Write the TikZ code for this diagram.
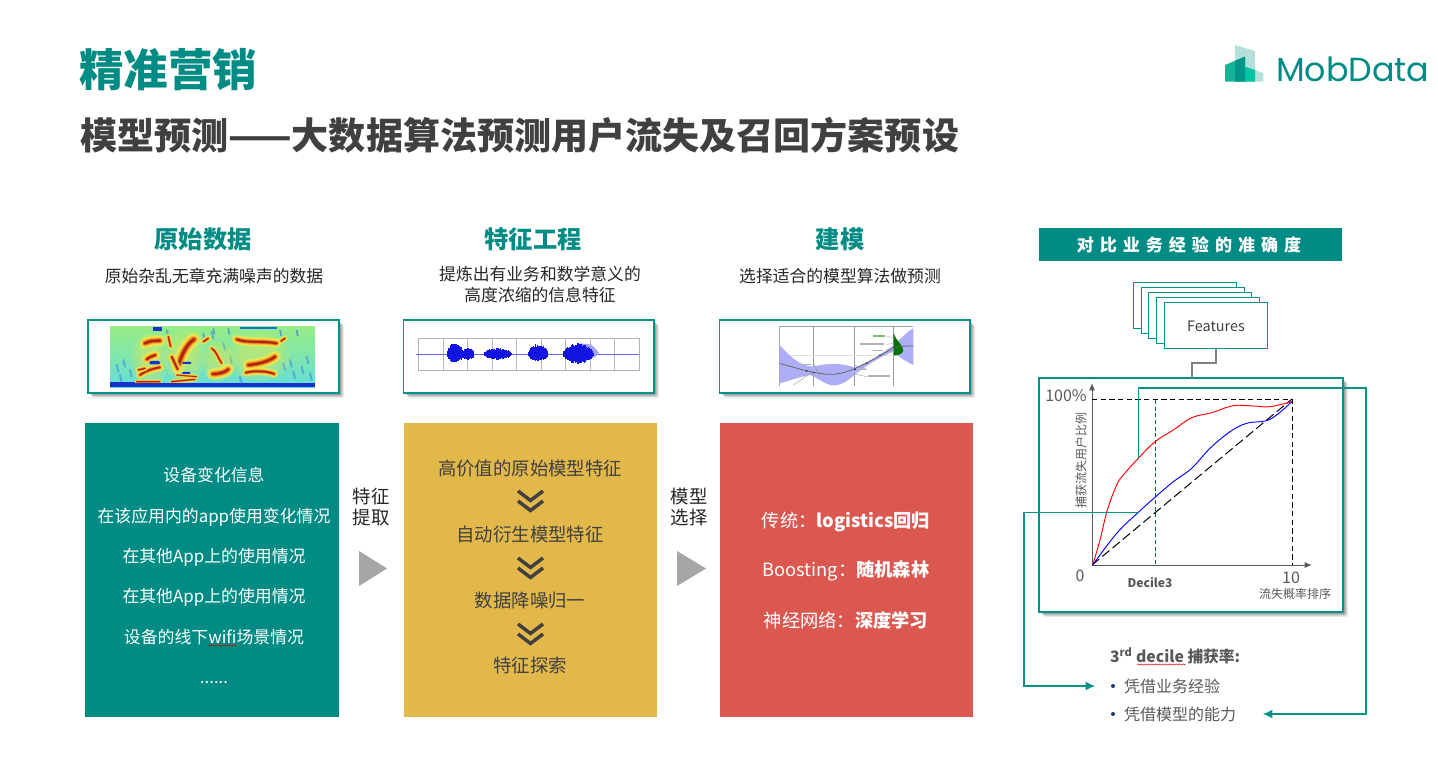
\documentclass[tikz,border=0pt]{standalone}
\usepackage{fontspec}
\setmainfont{Noto Sans CJK SC}
\newfontfamily\poppinsfont{Poppins}
\usetikzlibrary{arrows.meta,decorations.pathmorphing,calc}
\definecolor{teal1}{HTML}{008C84}
\definecolor{tealline}{HTML}{00938A}
\definecolor{yellow1}{HTML}{E2B84B}
\definecolor{red1}{HTML}{DA5850}
\definecolor{dark1}{HTML}{404040}
\definecolor{gray1}{HTML}{595959}
\definecolor{tri}{HTML}{A6A6A6}
\definecolor{logo1}{HTML}{00C4A4}
\definecolor{logo2}{HTML}{14B596}
\definecolor{logo3}{HTML}{009688}
\definecolor{logo4}{HTML}{B4DFDA}
\definecolor{navy1}{HTML}{1F3864}
\newcommand{\fsz}[1]{\fontsize{#1}{#1}\selectfont}
\newcommand{\pxbox}[6]{%
  \pgfmathsetmacro{\bw}{(#4-#2)*.75}\pgfmathsetmacro{\bh}{(#5-#3)*.75}%
  \node[#6,inner sep=0pt,outer sep=0pt,minimum width=\bw pt,minimum height=\bh pt,anchor=north west] (#1) at (#2,#3) {};}
\newcommand{\softshadow}[4]{%
  \foreach \d/\o in {5/.07,4/.09,3/.12,2/.14}{%
    \fill[black,opacity=\o,rounded corners=1pt] (#1+\d,#2+\d) rectangle (#3+\d,#4+\d);}}
\newcommand{\streak}[2][7]{%
  \draw[line width=#1*1.5pt,line cap=round,line join=round,draw=specy,opacity=.45] #2;
  \draw[line width=#1*1.15pt,line cap=round,line join=round,draw=specy] #2;
  \draw[line width=#1*.85pt,line cap=round,line join=round,draw=speco,opacity=.8] #2;
  \draw[line width=#1*.55pt,line cap=round,line join=round,draw=specm,opacity=.9] #2;
  \draw[line width=#1*.3pt,line cap=round,line join=round,draw=specr,opacity=.9] #2;}
\newcommand{\halo}[4]{%
  \foreach \k in {1,.8,.6}{%
    \fill[specy,opacity=.18] (#1,#2) ellipse [x radius=\k*#3pt,y radius=\k*#4pt];}}
\newcommand{\burst}[4]{%
  \foreach \xx in {#1,\the\numexpr#1+2\relax,...,#2}{%
    \pgfmathsetmacro{\env}{sqrt(abs(sin(180*(\xx-#1)/(#2-#1))))*(.72+.28*rnd)}%
    \draw[wave,line width=.55pt] (\xx,133-\env*#3) -- (\xx,133+\env*#4);}}
\newcommand{\chev}[2]{%
  \draw[dark1,line width=2.6pt,line join=miter] (#1-12.5,#2-10) -- (#1,#2-.5) -- (#1+12.5,#2-10);
  \draw[dark1,line width=2.6pt,line join=miter] (#1-12.5,#2) -- (#1,#2+9.5) -- (#1+12.5,#2);}
\definecolor{specy}{HTML}{EAEA50}
\definecolor{speco}{HTML}{F4B030}
\definecolor{specm}{HTML}{E86A18}
\definecolor{specr}{HTML}{A81C10}
\definecolor{specb}{HTML}{1A30C8}
\definecolor{specg}{HTML}{96EC86}
\definecolor{specc}{HTML}{62DEDC}
\definecolor{wave}{HTML}{1414E0}
\definecolor{band}{HTML}{AEAEF6}
\begin{document}
\begin{tikzpicture}[x=.75pt,y=-.75pt,
  txt/.style={inner sep=0pt,outer sep=0pt,align=center},
  coltitle/.style={txt,teal1,font=\fsz{18.2pt}\bfseries},
  coltext/.style={txt,black!85,font=\fsz{12.6pt}},
  boxw/.style={txt,white,font=\fsz{12.65pt},text height=11.1pt,text depth=1.5pt},
  boxr/.style={txt,white,font=\fsz{13.7pt},text height=12.1pt,text depth=1.7pt},
  boxd/.style={txt,dark1,font=\fsz{13.8pt},text height=12.1pt,text depth=1.7pt},
  sidel/.style={txt,black!85,font=\fontsize{13.8pt}{15.8pt}\selectfont},
  framebox/.style={draw=tealline,line width=1.05pt,fill=white},
  chartbox/.style={draw=tealline,line width=.85pt,fill=white},
  stackbox/.style={draw=tealline,line width=.8pt,fill=white},
  tealconn/.style={draw=tealline,line width=.8pt},
  tealarrow/.style={tealconn,-{Latex[length=7pt,width=6.5pt]}},
  squiggle/.style={draw=red!85!black,line width=.4pt,decorate,decoration={snake,amplitude=.45pt,segment length=2.6pt}},
  chartl/.style={txt,gray1},
  triang/.style={fill=tri},
  dashk/.style={black,line width=.75pt,dash pattern=on 4pt off 2.5pt}]
\pgfmathsetseed{7}
\useasboundingbox (0,0) rectangle (1438,780);
\fill[white] (0,0) rectangle (1438,780);

% titles
\node[txt,anchor=west,teal1,font=\fsz{33.4pt}\bfseries] (title) at (79,70) {精准营销};
\node[txt,anchor=west,dark1,font=\fsz{27.8pt}\bfseries] (subtitle) at (80,135) {模型预测——大数据算法预测用户流失及召回方案预设};

% logo
\begin{scope}[shift={(1210,35)},x=.25pt,y=-.25pt]
  \fill[logo4] (75,30) -- (135,48) -- (135,105) -- (160,115) -- (160,140) -- (75,140) -- cycle;
  \fill[logo2] (45,90) -- (105,65) -- (105,140) -- (45,140) -- cycle;
  \fill[logo3] (75,77) -- (105,65) -- (105,140) -- (75,140) -- cycle;
  \fill[logo1] (105,95) -- (135,105) -- (135,140) -- (105,140) -- cycle;
\end{scope}
\node[txt,anchor=west,teal1,font=\poppinsfont\fsz{25pt}] (logo) at (1276,69) {MobData};

% column heads
\node[coltitle] (h1) at (203,239) {原始数据};
\node[coltitle] (h2) at (533,239) {特征工程};
\node[coltitle] (h3) at (840,239) {建模};
\node[coltext] (s1) at (214,276) {原始杂乱无章充满噪声的数据};
\node[coltext,font=\fontsize{12.6pt}{15.8pt}\selectfont] (s2) at (540,285) {提炼出有业务和数学意义的\\高度浓缩的信息特征};
\node[coltext] (s3) at (840,276) {选择适合的模型算法做预测};

% image frames
\softshadow{88}{320}{339}{393}
\pxbox{f1}{88}{320}{339}{393}{framebox}
\softshadow{403.5}{320}{654}{393}
\pxbox{f2}{403.5}{320}{654}{393}{framebox}
\softshadow{719.5}{320}{970}{393}
\pxbox{f3}{719.5}{320}{970}{393}{framebox}

% spectrogram
\begin{scope}[shift={(80,310)},x=.25pt,y=-.25pt]
  \clip (90,50) rectangle (705,232);
  \shade[top color=specg,bottom color=specc,middle color=specc!45!specg] (90,50) rectangle (705,232);
  \foreach \a/\b in {110/165,130/150,150/180,610/160,640/185,665/170,690/190,370/70,395/65,260/60,430/100,450/140,480/200,120/195,680/140,630/150}{
    \draw[specc!55!blue,line width=1.5pt,line cap=round,opacity=.5] (\a,\b) -- ++(5,20);}
  \foreach \a/\b in {400/55,445/55,600/60,650/60}{
    \draw[specc!40!blue,line width=1.3pt,opacity=.5] (\a,\b) -- ++(3,18);}
  \halo{210}{150}{14}{20}
  \halo{315}{140}{15}{20}
  \halo{415}{155}{12}{15}
  \halo{535}{140}{24}{18}
  \streak[3]{(395,115) .. controls (410,125) and (415,145) .. (425,160)}
  \streak[3]{(370,95) -- (385,85)}
  \streak[3]{(600,95) -- (615,85)}
  \streak[3]{(265,80) -- (272,110)}
  \streak[6]{(195,100) .. controls (210,92) and (225,92) .. (240,92)}
  \streak[5]{(200,148) .. controls (210,140) and (218,138) .. (226,135)}
  \streak[4]{(180,195) .. controls (200,180) and (225,175) .. (240,172)}
  \streak[3]{(175,180) -- (195,175)}
  \streak[7]{(293,172) .. controls (300,150) and (315,105) .. (342,88)}
  \streak[4]{(275,140) -- (293,178)}
  \streak[6]{(398,192) .. controls (415,192) and (435,188) .. (445,178)}
  \streak[5]{(470,88) .. controls (500,100) and (550,92) .. (590,100)}
  \streak[6]{(505,165) .. controls (535,162) and (565,155) .. (585,140)}
  \streak[4]{(497,188) .. controls (520,182) and (560,182) .. (583,192)}
  \streak[2.5]{(170,215) -- (240,215)}
  \streak[2.5]{(275,215) -- (345,208)}
  \streak[2]{(290,195) -- (350,200)}
  \fill[specb,rounded corners=1pt] (208,153) rectangle (240,163);
  \fill[specb,rounded corners=1pt] (305,156) rectangle (335,162);
  \fill[specb,rounded corners=1pt] (305,186) rectangle (332,192);
  \fill[specb] (90,220) rectangle (705,232);
  \fill[specb] (90,215) rectangle (165,224);
  \fill[specb] (218,50) rectangle (245,64);
  \fill[specb!70!cyan] (480,50) rectangle (590,57);
\end{scope}

% waveform
\begin{scope}[shift={(395,310)},x=.25pt,y=-.25pt]
  \draw[black!30,line width=.6pt] (70,85) rectangle (732,180);
  \foreach \a in {144,218,291,365,438,511,585,659}{\draw[black!28,line width=.5pt] (\a,85) -- (\a,180);}
  \draw[wave!65,line width=.5pt] (64,133) -- (732,133);
  \fill[wave!40] (555,100) -- (590,104) -- (612,128) -- (605,138) -- (575,152) -- (545,160) -- cycle;
  \burst{155}{205}{37}{27}
  \burst{200}{238}{20}{17}
  \burst{265}{350}{19}{16}
  \burst{398}{460}{32}{23}
  \burst{504}{595}{35}{30}
\end{scope}

% gaussian process figure
\begin{scope}[shift={(710,310)},x=.25pt,y=-.25pt]
  \clip (205,46) rectangle (614,228);
  \draw[black!35,line width=.5pt] (209,48) -- (610,48);
  \draw[black!35,line width=.5pt] (209,48) -- (209,228);
  \foreach \a in {310,433,551}{\draw[black!40,line width=.5pt] (\a,48) -- (\a,228);}
  \draw[black!12,line width=.4pt] (209,135) -- (610,135);
  \fill[band] (209,105) .. controls (240,140) and (270,168) .. (310,170)
     .. controls (350,158) and (400,160) .. (433,172)
     .. controls (470,160) and (510,135) .. (551,105)
     .. controls (575,85) and (590,65) .. (610,55)
     -- (610,165) .. controls (590,155) and (570,145) .. (551,125)
     .. controls (520,135) and (470,165) .. (433,195)
     .. controls (410,215) and (390,228) .. (365,226)
     .. controls (340,220) and (325,205) .. (300,195)
     .. controls (270,200) and (240,212) .. (209,220) -- cycle;
  \fill[green!45!black] (551,70) .. controls (556,90) and (580,105) .. (580,122) .. controls (578,132) and (560,138) .. (551,136) -- cycle;
  \draw[black!60,line width=.6pt] (209,160) .. controls (270,178) and (330,195) .. (370,193) .. controls (420,190) and (480,155) .. (551,113) .. controls (570,108) and (590,108) .. (610,108);
  \foreach \a/\b in {290/183,310/188,435/178,470/160,510/135,551/113}{\fill[black!80] (\a,\b) circle (.7pt);}
  \draw[black!40,line width=.3pt] (250,225) -- (310,185) (310,160) -- (330,200) (433,165) -- (470,178) (433,192) -- (470,200) (530,103) -- (551,100) (530,80) -- (551,82) (530,120) -- (551,115);
  \draw[black!30,line width=.8pt] (272,163) -- (302,163) (445,178) -- (472,178) (475,198) -- (540,198) (450,102) -- (522,102) (490,121) -- (520,121);
  \draw[black!30,line width=.8pt] (180,135) -- (198,135);
  \draw[green!55!black,line width=.8pt,opacity=.55] (490,78) -- (524,78);
\end{scope}

% colored panels
\pxbox{p1}{85}{423}{339}{717}{fill=teal1}
\pxbox{p2}{404}{423}{657}{717}{fill=yellow1}
\pxbox{p3}{720}{423}{973}{717}{fill=red1}

\node[boxw] (a1) at (214,475) {设备变化信息};
\node[boxw] (a2) at (214,516) {在该应用内的app使用变化情况};
\node[boxw] (a3) at (214,556) {在其他App上的使用情况};
\node[boxw] (a4) at (214,596) {在其他App上的使用情况};
\node[boxw] (a5) at (214,637) {设备的线下wifi场景情况};
\node[txt,white,font=\fsz{12.65pt},anchor=base] (a6) at (214,683.5) {......};
\draw[squiggle] (208,645.5) -- (236,645.5);

\node[boxd] (b1) at (530,469) {高价值的原始模型特征};
\node[boxd] (b2) at (530,535) {自动衍生模型特征};
\node[boxd] (b3) at (530,601) {数据降噪归一};
\node[boxd] (b4) at (530,666) {特征探索};
\chev{530.5}{501}
\chev{530.5}{568}
\chev{530.5}{634}

\node[boxr] (c1) at (846,521) {传统：\textbf{logistics回归}};
\node[boxr] (c2) at (846,570) {Boosting：\textbf{随机森林}};
\node[boxr] (c3) at (846,621) {神经网络：\textbf{深度学习}};

% side labels and triangles
\node[sidel] (l1) at (371,507) {特征\\提取};
\node[sidel] (l2) at (689,507) {模型\\选择};
\fill[triang] (359,551) -- (359,586) -- (387,568.5) -- cycle;
\fill[triang] (677,551) -- (677,586) -- (706,568.5) -- cycle;

% right column
\pxbox{hd}{1039}{228}{1342}{261}{fill=teal1}
\node[txt,white,font=\fsz{12.8pt}\bfseries\addfontfeature{LetterSpace=35}] (hdt) at (1189,245) {对比业务经验的准确度};

\pxbox{st1}{1133.5}{282.5}{1236.5}{328.5}{stackbox}
\pxbox{st2}{1141.5}{287.5}{1244.5}{333.5}{stackbox}
\pxbox{st3}{1148.5}{292.5}{1251.5}{338.5}{stackbox}
\pxbox{st4}{1156.5}{297.5}{1259.5}{343.5}{stackbox}
\pxbox{st5}{1164.5}{302.5}{1267.5}{348.5}{stackbox}
\node[txt,dark1,font=\fsz{10.8pt}] (ft) at (1216,326) {Features};

\softshadow{1039}{378}{1343}{612}
\pxbox{cb}{1039}{378}{1343}{612}{chartbox}
\draw[black!50,line width=.85pt] (st5.south) |- (1192,363) -- (1192,378);

% chart
\coordinate (o) at (1092,565);
\coordinate (ytop) at (1092,383);
\coordinate (xend) at (1312,565);
\coordinate (pk) at (1292,399);
\coordinate (pl) at (1092,399);
\coordinate (rp) at (1138.3,458.3);
\coordinate (bp) at (1138.3,512.3);
\draw[black!65,line width=.75pt,-{Latex[length=5.5pt,width=4.5pt]}] (o) -- (ytop);
\draw[black!65,line width=.75pt,-{Latex[length=5.5pt,width=4.5pt]}] (o) -- (xend);
\draw[dashk] (pl) -- (pk) -- (o -| pk);
\draw[dashk,dash pattern=on 7pt off 3pt] (o) -- (pk);
\draw[teal1!70!black,line width=.5pt,dash pattern=on 3pt off 2pt] (1155,400) -- (1155,565);
\draw[red,line width=.7pt] plot[smooth,tension=.6] coordinates {(1092.7,565) (1100,540) (1107.3,510) (1116.7,485) (1123.3,475) (1138.3,458.3) (1155,441.7) (1173.3,430) (1191.7,417.7) (1211.7,412.7) (1233.3,405.7) (1253.3,406) (1270,406.7) (1291.7,401.7)};
\draw[blue,line width=.7pt] plot[smooth,tension=.6] coordinates {(1092.7,565) (1116.7,533.3) (1138.3,512.3) (1155,497.3) (1173.3,481.7) (1191.7,468.3) (1210,448.3) (1230,431.7) (1246.7,423.3) (1270,419.3) (1291.7,401.7)};
\node[chartl,font=\fsz{12pt}] (yt) at (1066,396) {100\%};
\node[chartl,font=\fsz{12pt}] (x0) at (1080,576) {0};
\node[chartl,font=\fsz{12pt}] (x10) at (1291,578) {10};
\node[chartl,font=\fsz{9pt}\bfseries] (dc) at (1150,583) {Decile3};
\node[chartl,font=\fsz{9pt}] (xl) at (1295,594) {流失概率排序};
\node[chartl,font=\fsz{9pt},rotate=90] (yl) at (1081,460) {捕获流失用户比例};

% callouts
\node[txt,anchor=west,gray1,font=\fsz{11.8pt}\bfseries] (q) at (1110,656) {3\textsuperscript{rd} decile 捕获率:};
\draw[squiggle] (1137,664.5) -- (1185,664.5);
\fill[navy1] (1113,686) circle (1.5pt);
\fill[navy1] (1113,714) circle (1.5pt);
\node[txt,anchor=west,gray1,font=\fsz{12pt}] (q1) at (1124,686) {凭借业务经验};
\node[txt,anchor=west,gray1,font=\fsz{12pt}] (q2) at (1124,714) {凭借模型的能力};
\coordinate (q1in) at (1095,686);
\coordinate (q2in) at (1263,714);
\draw[tealarrow] (rp) |- (1366,388) |- (q2in);
\draw[tealarrow] (bp) -- (1024,512.3) |- (q1in);
\end{tikzpicture}
\end{document}
